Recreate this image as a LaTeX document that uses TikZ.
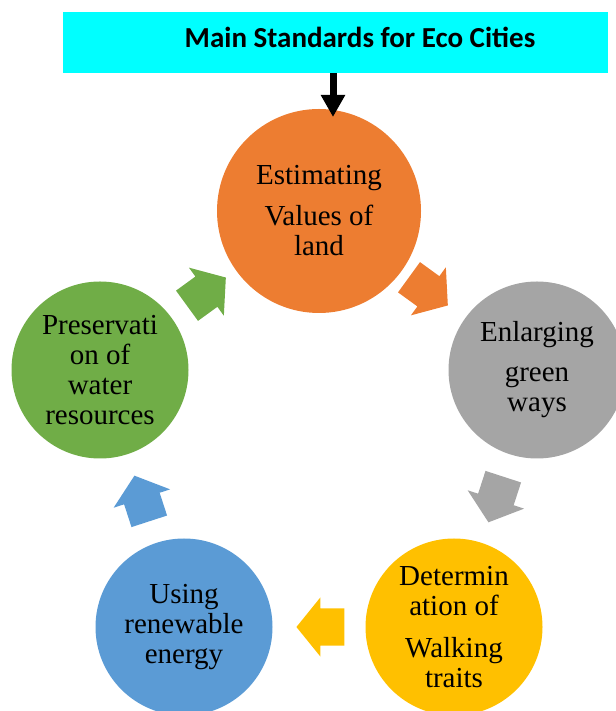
\documentclass[tikz,border=0pt]{standalone}
\usepackage{fontspec}
\setmainfont{Liberation Serif}
\newfontfamily\titlefont{Carlito}
\usetikzlibrary{arrows.meta}
\usetikzlibrary{shapes.arrows}
\usepackage{xcolor}
\definecolor{myorange}{HTML}{ED7D31}
\definecolor{mygray}{HTML}{A5A5A5}
\definecolor{myyellow}{HTML}{FFC000}
\definecolor{myblue}{HTML}{5B9BD5}
\definecolor{mygreen}{HTML}{70AD47}
\definecolor{mycyan}{HTML}{00FFFF}
\tikzset{
  >=latex,
  node stage/.style={circle,minimum size=177,inner sep=0,outer sep=0,align=center,
    font=\fontsize{29}{30}\selectfont},
  node land/.style={node stage,minimum size=204,fill=myorange},
  node ways/.style={node stage,fill=mygray},
  node walk/.style={node stage,fill=myyellow},
  node energy/.style={node stage,fill=myblue},
  node water/.style={node stage,fill=mygreen},
  cycle arrow/.style={single arrow,minimum height=48,inner xsep=0,inner ysep=18.5,
    single arrow head extend=11,single arrow tip angle=102},
  title box/.style={fill=mycyan,minimum width=545,minimum height=61,inner sep=0},
  title text/.style={font=\titlefont\bfseries\fontsize{29}{31}\selectfont},
  title arrow/.style={-{Triangle[length=22pt,width=23pt]},line width=7pt,black}
}

\begin{document}
\begin{tikzpicture}[x=1pt,y=1pt]
  \useasboundingbox (0,0) rectangle (615,711);
  \node[title box] (title) at (335.5,668.5) {};
  \node[title text,anchor=base] (title label) at (360,663) {Main Standards for Eco Cities};

  \node[node land] (land) at (319,500) {Estimating\\[11pt] Values of\\ land};
  \node[node ways] (ways) at (537,341) {Enlarging\\[10pt] green\\ ways};
  \node[node walk] (walk) at (454,84) {Determin\\ ation of\\[12pt] Walking\\ traits};
  \node[node energy] (energy) at (184,84) {Using\\ renewable\\ energy};
  \node[node water] (water) at (100,341) {Preservati\\ on of\\ water\\ resources};

  % block arrows between the stages
  \node[cycle arrow,fill=myorange,rotate=-36] (a1) at (422.3,424.1) {};
  \node[cycle arrow,fill=mygray,rotate=-108] (a2) at (498.2,218.7) {};
  \node[cycle arrow,fill=myyellow,rotate=180] (a3) at (328,84) {};
  \node[cycle arrow,fill=myblue,rotate=108] (a4) at (144.2,205.3) {};
  \node[cycle arrow,fill=mygreen,rotate=36] (a5) at (200.3,414.9) {};

  \coordinate (entry) at (333,594);
  \draw[title arrow] (title.south -| entry) -- (entry);
\end{tikzpicture}
\end{document}
